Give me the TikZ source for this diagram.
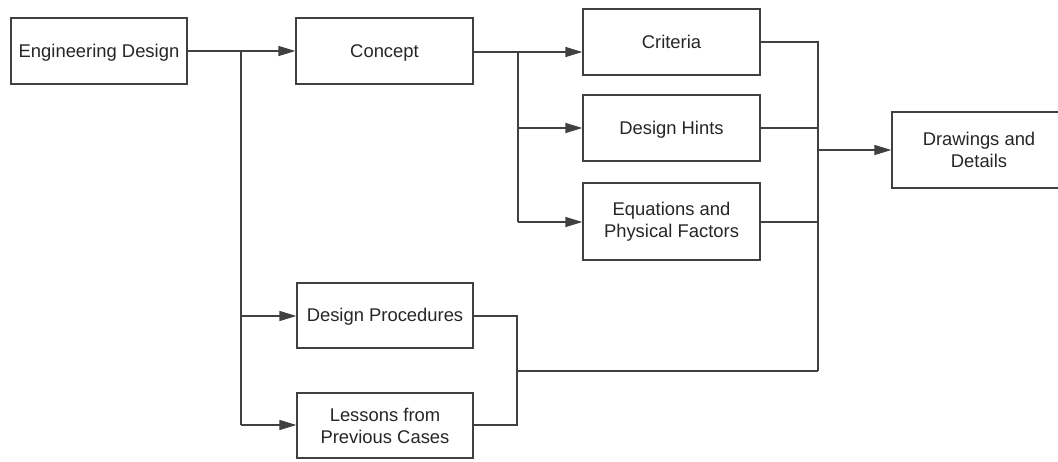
\documentclass[tikz,border=0pt]{standalone}
\usepackage{fontspec}
\setmainfont{Liberation Sans}
\usetikzlibrary{arrows.meta}
\definecolor{linegray}{HTML}{404040}
\definecolor{textgray}{HTML}{262626}
\begin{document}
\begin{tikzpicture}[x=1pt,y=-1pt,
  box/.style={draw=linegray, line width=1.4pt, fill=white, rectangle,
    inner sep=0pt, align=center, text=textgray,
    font=\fontsize{18.4}{22}\selectfont},
  oneline/.style={text height=13pt, text depth=0pt},
  link/.style={draw=linegray, line width=1.4pt},
  arr/.style={link, -{Triangle[length=17pt,width=10pt]}}]
  \useasboundingbox (0,0) rectangle (1058,462);
  \clip (0,0) rectangle (1058,462);
  \fill[white] (0,0) rectangle (1058,462);

  % boxes
  \node[box, oneline, minimum width=176pt, minimum height=66pt] (ed) at (99,51) {Engineering Design};
  \node[box, oneline, minimum width=177pt, minimum height=66pt] (concept) at (384.5,51) {Concept};
  \node[box, oneline, minimum width=177pt, minimum height=66pt] (criteria) at (671.5,42) {Criteria};
  \node[box, oneline, minimum width=177pt, minimum height=66pt] (hints) at (671.5,128) {Design Hints};
  \node[box, minimum width=177pt, minimum height=77pt] (eqs) at (671.5,221.5) {Equations and\\Physical Factors};
  \node[box, minimum width=174pt, minimum height=76pt] (dwg) at (979,150) {Drawings and\\Details};
  \node[box, oneline, minimum width=176pt, minimum height=65pt] (proc) at (385,315.5) {Design Procedures};
  \node[box, minimum width=176pt, minimum height=65pt] (lessons) at (385,425.5) {Lessons from\\Previous Cases};

  % junction points
  \coordinate (j1) at (241,51);
  \coordinate (j1p) at (241,316);
  \coordinate (j1l) at (241,425);
  \coordinate (j2) at (518,52);
  \coordinate (j2h) at (518,128);
  \coordinate (j2e) at (518,222);
  \coordinate (m1) at (818,42);
  \coordinate (m1h) at (818,128);
  \coordinate (m1d) at (818,150);
  \coordinate (m1e) at (818,222);
  \coordinate (m1b) at (818,371);
  \coordinate (m2p) at (517,316);
  \coordinate (m2) at (517,371);
  \coordinate (m2l) at (517,425);

  % from Engineering Design
  \draw[arr] (ed.east) -- (concept.west);
  \draw[link] (j1) -- (j1l);
  \draw[arr] (j1p) -- (proc.west |- j1p);
  \draw[arr] (j1l) -- (lessons.west |- j1l);

  % from Concept
  \draw[arr] (concept.east |- j2) -- (criteria.west |- j2);
  \draw[link] (j2) -- (j2e);
  \draw[arr] (j2h) -- (hints.west);
  \draw[arr] (j2e) -- (eqs.west |- j2e);

  % into Drawings and Details
  \draw[link] (criteria.east) -- (m1) -- (m1b);
  \draw[link] (hints.east) -- (m1h);
  \draw[link] (eqs.east |- m1e) -- (m1e);
  \draw[arr] (m1d) -- (dwg.west);

  % procedures and lessons
  \draw[link] (proc.east |- m2p) -- (m2p) -- (m2l) -- (lessons.east |- m2l);
  \draw[link] (m2) -- (m1b);
\end{tikzpicture}
\end{document}
